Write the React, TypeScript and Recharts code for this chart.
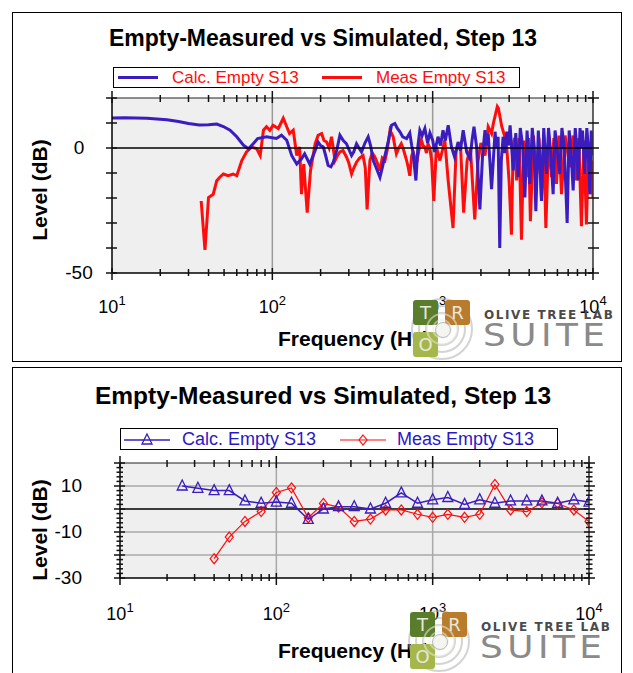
import React from "react";
import { LineChart, Line, XAxis, YAxis, ReferenceLine, CartesianGrid } from "recharts";

const FONT = '"Liberation Sans", Arial, Helvetica, sans-serif';
const TITLE = "Empty-Measured vs Simulated, Step 13";
const CALC_NAME = "Calc. Empty S13";
const MEAS_NAME = "Meas Empty S13";
const X_TITLE = "Frequency (Hz)";
const Y_TITLE = "Level (dB)";

const BLUE = "#3a1cbf";
const RED = "#ff0d0d";

// x axis ticks (log, decades + minors)
const freqTicks = [
  10, 20, 30, 40, 50, 60, 70, 80, 90, 100, 200, 300, 400, 500, 600, 700, 800, 900,
  1000, 2000, 3000, 4000, 5000, 6000, 7000, 8000, 9000, 10000,
];
const decadeTicks = [10, 100, 1000, 10000];

// top chart: narrow band response [Hz, dB]
const calcTop: [number, number][] = [
  [10, 12], [12, 12.1], [14, 12], [16.5, 11.9], [19, 11.6], [22, 11.3], [26, 10.6], [30, 9.8],
  [35, 9.2], [40, 9.3], [45, 9.6], [49.5, 8.6], [54.5, 7.1], [60, 4.5], [66, 1.1], [71, -0.3],
  [76, 1.7], [81, 3.8], [92, 4.5], [106, 3.8], [114, 5.1], [123, 3.1], [132, -3], [142, -6.4],
  [152, -4.3], [159, -2.3], [171, -6.4], [185, -1], [193, 2.4], [200, 1], [208, 0.4], [215, -3],
  [223, -7], [232, -7.5], [240, -5.7], [252, -1], [264, 5.1], [277, 3], [290, 1.7], [300, -0.5],
  [312, -3], [322, -1.5], [335, 1.7], [347, 0], [360, -1.6], [378, 2], [396, 4.5], [410, 1],
  [426, -5], [445, -8], [469, -11.7], [485, -8], [504, -3], [530, 3], [554, 9.1], [581, 9.8],
  [600, 8], [625, 6.5], [650, 4.5], [688, 3.8], [720, 6], [740, 1], [756, -2.3], [786, -13],
  [810, 1], [832, 7.1], [860, 5], [894, 7.8], [930, 2], [961, 6], [1000, 3.1], [1030, -1.6],
  [1080, 4.5], [1120, 1], [1160, 7.1], [1200, 3], [1250, 9.1], [1310, 0.4], [1370, -3.6], [1440, 2.4],
  [1490, -1], [1550, 7.1], [1630, -1.6], [1710, -4.3], [1760, 3], [1810, 8.5], [1880, 0.4], [1970, -24.6],
  [2050, -2.3], [2120, 7.1], [2170, 1], [2220, 5.8], [2330, -16.5], [2450, 6.5], [2500, 0], [2560, 4.5],
  [2620, -40], [2680, -5], [2750, 4.5], [2820, -2], [2900, 6.5], [2970, 1], [3040, 9.1], [3180, -9],
  [3300, 6], [3415, -11.7], [3520, 8], [3640, 1], [3760, -19.8], [3880, 7], [3960, -3], [4040, -14.4],
  [4180, 8], [4290, 0], [4400, -25.3], [4560, 7], [4660, -4], [4770, -21.2], [4930, 8], [5030, -2],
  [5130, -10.4], [5280, 8], [5450, -2], [5640, -18.5], [5800, 7], [5980, -1], [6210, -10.4], [6400, 8],
  [6620, 0], [6900, -30], [7100, 7], [7300, -2], [7520, -17], [7750, 8], [7900, 1], [8080, -13],
  [8300, 8], [8450, 0], [8600, 7], [8890, -10.4], [9150, 8], [9350, 0], [9550, -18.5], [9750, 7],
  [9900, -3], [10000, 5],
];

const measTop: [number, number][] = [
  [36, -21.2], [38, -40.8], [40, -19.8], [42.8, -18.5], [45, -13.1], [47, -11.7], [49.5, -10.4], [53, -11.1],
  [57, -10.4], [60, -11.1], [64.5, -5], [69, -1.6], [74.5, 0.4], [80, -0.3], [84, -3], [88, 7.1],
  [92, 8.5], [96.5, 7.1], [101, 9.1], [109, 7.8], [117, 11.9], [123, 8.5], [128, 5.8], [135, 7.1],
  [142, -3], [148, 0.4], [152, -18.5], [157, -6.4], [165, -25.9], [173, -9.1], [185, 1.7], [193, 5.1],
  [203, 5.8], [210, 3], [218, 2.4], [226, 0], [234, 4.5], [246, -5], [255, -3], [264, -1.6],
  [276, -1], [290, -3.6], [300, -6], [312, -10.4], [322, -8], [335, -5.7], [350, -4], [368, -3],
  [380, -8], [390, -24.6], [406, -5], [420, -2], [436, -3.6], [452, -6], [469, -9.1], [485, -4],
  [504, -5], [520, -1], [542, 7.1], [567, 4.5], [580, 1], [594, -2.3], [615, 0], [637, 1.7],
  [660, -1], [688, -5], [705, -8], [720, -11.1], [740, -3], [756, -1.6], [775, -4], [792, -6.4],
  [820, -1], [850, 3.1], [870, 1], [894, 0.4], [915, -2], [935, 1.7], [960, 0], [985, -5],
  [1016, -21.2], [1055, 0.4], [1110, -5], [1190, 3.1], [1250, -13.1], [1340, -32], [1400, -1], [1490, 1.7],
  [1560, -25.9], [1640, -5], [1720, -0.3], [1830, -28.6], [1920, -5], [2000, 2], [2120, -3], [2220, 8.5],
  [2330, 5.8], [2390, 9.8], [2530, 16.6], [2570, 15.9], [2700, 8.5], [2820, 4.5], [2900, 0], [3000, -13.8],
  [3100, -34.7], [3180, 1.7], [3250, 4], [3340, -13], [3460, 4], [3580, -36.7], [3700, 3], [3850, -11.7],
  [3960, 4], [4070, -29.3], [4250, 5], [4440, -13], [4600, 4], [4770, -19.8], [4920, 5], [5080, -32],
  [5300, 5], [5510, -11.7], [5700, 4], [5920, -14.4], [6130, 5], [6360, -18.5], [6700, 5], [7170, -7.7],
  [7500, 5], [7880, -13], [8150, 4], [8470, -31.3], [8780, 3], [9100, -30.6], [9400, 2], [9680, -18.5],
  [9850, -5], [10000, -20],
];

// bottom chart: 1/3 octave bands
const calcBandFreqs = [25, 31.5, 40, 50, 63, 80, 100, 125, 160, 200, 250, 315, 400, 500, 630, 800, 1000, 1250, 1600, 2000, 2500, 3150, 4000, 5000, 6300, 8000, 10000];
const calcBandLevels = [10, 9, 8, 8, 3.5, 2.5, 3, 2.5, -4.5, 0, 1, 1, 0, 2.5, 7, 2.5, 4, 5, 2, 4, 2.5, 3.5, 3.5, 3.5, 2.5, 4, 3];
const measBandFreqs = [40, 50, 63, 80, 100, 125, 160, 200, 250, 315, 400, 500, 630, 800, 1000, 1250, 1600, 2000, 2500, 3150, 4000, 5000, 6300, 8000, 10000];
const measBandLevels = [-21.6, -12.2, -5.4, -1.1, 7.2, 9.2, -3.8, 2.4, 0.8, -5.4, -4.4, -0.4, -0.4, -2.3, -3.6, -2.3, -3.6, -2.3, 10.7, -0.4, -1.1, 2.7, 2.4, -0.4, -5.4];

const topLevelTicks = [-50, -40, -30, -20, -10, 0, 10, 20];
const topLevelLabels = [0, -50];
const botLevelTicks = [
  -30, -28, -26, -24, -22, -20, -18, -16, -14, -12, -10, -8, -6, -4, -2, 0,
  2, 4, 6, 8, 10, 12, 14, 16, 18, 20,
];
const botLevelMajors = [-30, -20, -10, 0, 10, 20];
const botLevelLabels = [10, -10, -30];

const toPts = (rows: [number, number][]) => rows.map(([f, v]) => ({ f, v }));
const zipPts = (fs: number[], vs: number[]) => fs.map((f, i) => ({ f, v: vs[i] }));

const xTick = (labelDy: number, withLabel: boolean, dir: number) => (props: any) => {
  const { x, y, payload } = props;
  const v = payload.value;
  const major = decadeTicks.includes(v);
  return (
    <g>
      <line x1={x} x2={x} y1={y - dir * (major ? 5 : 4)} y2={y + dir * (major ? 7 : 3)} stroke="#111" strokeWidth={1.5} />
      {withLabel && major && (
        <text x={x} y={y + labelDy} textAnchor="middle" fontFamily={FONT} fontSize={18} fill="#000">
          10
          <tspan dy={-8} fontSize={13}>{Math.round(Math.log10(v))}</tspan>
        </text>
      )}
    </g>
  );
};

const yTick = (majors: number[], labels: number[], labelDx: number, dir: number, anchor: string) => (props: any) => {
  const { x, y, payload } = props;
  const v = payload.value;
  const major = majors.includes(v);
  const len = major ? 6 : 3.5;
  return (
    <g>
      <line x1={x - dir * len} x2={x + dir * (major ? 5 : 3)} y1={y} y2={y} stroke="#111" strokeWidth={1.5} />
      {labels.includes(v) && (
        <text x={x - labelDx} y={y} dy={6} textAnchor={anchor} fontFamily={FONT} fontSize={19} fill="#000">
          {v}
        </text>
      )}
    </g>
  );
};

const TriDot = (props: any) => {
  const { cx, cy } = props;
  if (cx == null || cy == null) return null;
  return (
    <path d={`M${cx},${cy - 6} L${cx + 5},${cy + 4} L${cx - 5},${cy + 4} Z`} fill="none" stroke={BLUE} strokeWidth={1.3} />
  );
};

const DiaDot = (props: any) => {
  const { cx, cy } = props;
  if (cx == null || cy == null) return null;
  return (
    <path d={`M${cx},${cy - 5} L${cx + 4},${cy} L${cx},${cy + 5} L${cx - 4},${cy} Z`} fill="none" stroke={RED} strokeWidth={1.2} />
  );
};

function Logo({ x, y }: { x: number; y: number }) {
  const sq = (dx: number, dy: number, bg: string, ch: string) => (
    <div style={{ position: "absolute", left: x + dx, top: y + dy, width: 25, height: 25, background: bg, borderRadius: 3, color: "#e6e9dc", fontFamily: "DejaVu Sans", fontSize: 18, lineHeight: "25px", textAlign: "center" }}>{ch}</div>
  );
  return (
    <>
      {[31, 24, 17].map((r) => (
        <div key={r} style={{ position: "absolute", left: x + 29 - r, top: y + 29 - r, width: 2 * r, height: 2 * r, borderRadius: "50%", border: "2px solid rgba(175,175,175,0.55)", boxSizing: "border-box" }} />
      ))}
      {sq(0, 0, "#5a7d2c", "T")}
      {sq(32, 0, "#b97b2c", "R")}
      {sq(0, 32, "#a5b64b", "O")}
      {[10, 16].map((r) => (
        <div key={r} style={{ position: "absolute", left: x + 29 - r, top: y + 29 - r, width: 2 * r, height: 2 * r, borderRadius: "50%", border: "2px solid rgba(235,235,225,0.55)", boxSizing: "border-box" }} />
      ))}
      <div style={{ position: "absolute", left: x + 22, top: y + 22, width: 14, height: 14, borderRadius: "50%", background: "#f4f4f0", border: "1px solid #bbb" }} />
      <div style={{ position: "absolute", left: x + 71, top: y + 8, fontFamily: "DejaVu Sans", fontWeight: 600, fontSize: 12, letterSpacing: 1.6, color: "#4a4a4a", whiteSpace: "nowrap" }}>OLIVE TREE LAB</div>
      <div style={{ position: "absolute", left: x + 70, top: y + 16, fontFamily: "DejaVu Sans", fontSize: 32, letterSpacing: 4, color: "#8a8a8a", whiteSpace: "nowrap", transform: "scaleX(1.12)", transformOrigin: "left top" }}>SUITE</div>
    </>
  );
}

function Title({ top, size }: { top: number; size: number }) {
  return (
    <div style={{ position: "absolute", left: 323, top, transform: "translateX(-50%)", whiteSpace: "nowrap", fontFamily: FONT, fontWeight: 700, fontSize: size, color: "#000" }}>
      {TITLE}
    </div>
  );
}

function AxisTitles({ yCenter, xTop }: { yCenter: number; xTop: number }) {
  return (
    <>
      <div style={{ position: "absolute", left: 40, top: yCenter, transform: "translate(-50%,-50%) rotate(-90deg)", whiteSpace: "nowrap", fontFamily: FONT, fontWeight: 700, fontSize: 21 }}>
        {Y_TITLE}
      </div>
      <div style={{ position: "absolute", left: 278, top: xTop, whiteSpace: "nowrap", fontFamily: FONT, fontWeight: 700, fontSize: 21 }}>
        {X_TITLE}
      </div>
    </>
  );
}

function TopChart() {
  const axisLine = { stroke: "#000", strokeWidth: 1.5 };
  return (
    <div style={{ position: "absolute", left: 0, top: 0 }}>
      <LineChart width={633} height={360} margin={{ top: 0, right: 0, bottom: 0, left: 0 }}>
        <CartesianGrid xAxisId="b" yAxisId="l" horizontal={false} vertical={false} fill="#efefef" />
        <XAxis xAxisId="b" dataKey="f" type="number" scale="log" domain={[10, 10000]} allowDataOverflow ticks={freqTicks} interval={0} height={87} tickSize={0} tickMargin={0} tickLine={false} axisLine={axisLine} tick={xTick(40, true, 1)} />
        <XAxis xAxisId="t" orientation="top" dataKey="f" type="number" scale="log" domain={[10, 10000]} allowDataOverflow ticks={freqTicks} interval={0} height={98} tickSize={0} tickMargin={0} tickLine={false} axisLine={{ stroke: "#222", strokeWidth: 1.2 }} tick={xTick(0, false, -1)} />
        <YAxis yAxisId="l" type="number" domain={[-50, 20]} allowDataOverflow ticks={topLevelTicks} interval={0} width={112} tickSize={0} tickMargin={0} tickLine={false} axisLine={axisLine} tick={yTick(topLevelTicks, topLevelLabels, 33, 1, "middle")} />
        <YAxis yAxisId="r" orientation="right" type="number" domain={[-50, 20]} allowDataOverflow ticks={topLevelTicks} interval={0} width={40} tickSize={0} tickMargin={0} tickLine={false} axisLine={{ stroke: "#333", strokeWidth: 1.5 }} tick={yTick(topLevelTicks, [], 0, -1, "middle")} />
        <ReferenceLine xAxisId="b" yAxisId="l" x={100} stroke="#9a9a9a" strokeWidth={1.5} />
        <ReferenceLine xAxisId="b" yAxisId="l" x={1000} stroke="#9a9a9a" strokeWidth={1.5} />
        <Line xAxisId="b" yAxisId="l" data={toPts(measTop)} dataKey="v" name={MEAS_NAME} stroke={RED} strokeWidth={3} dot={false} isAnimationActive={false} />
        <Line xAxisId="b" yAxisId="l" data={toPts(calcTop)} dataKey="v" name={CALC_NAME} stroke={BLUE} strokeWidth={3} dot={false} isAnimationActive={false} />
        <ReferenceLine xAxisId="b" yAxisId="l" y={0} stroke="#000" strokeWidth={1.5} />
      </LineChart>
    </div>
  );
}

function BottomChart() {
  const axisLine = { stroke: "#000", strokeWidth: 1.5 };
  return (
    <div style={{ position: "absolute", left: 0, top: 360 }}>
      <LineChart width={633} height={313} margin={{ top: 0, right: 0, bottom: 0, left: 0 }}>
        <CartesianGrid xAxisId="b" yAxisId="l" fill="#efefef" stroke="#a8a8a8" strokeWidth={1.5} horizontalValues={[10, -10, -20]} verticalValues={[100, 1000]} />
        <XAxis xAxisId="b" dataKey="f" type="number" scale="log" domain={[10, 10000]} allowDataOverflow ticks={freqTicks} interval={0} height={95} tickSize={0} tickMargin={0} tickLine={false} axisLine={axisLine} tick={xTick(42, true, 1)} />
        <XAxis xAxisId="t" orientation="top" dataKey="f" type="number" scale="log" domain={[10, 10000]} allowDataOverflow ticks={freqTicks} interval={0} height={103} tickSize={0} tickMargin={0} tickLine={false} axisLine={{ stroke: "#222", strokeWidth: 1.2 }} tick={xTick(0, false, -1)} />
        <YAxis yAxisId="l" type="number" domain={[-30, 20]} allowDataOverflow ticks={botLevelTicks} interval={0} width={120} tickSize={0} tickMargin={0} tickLine={false} axisLine={axisLine} tick={yTick(botLevelMajors, botLevelLabels, 38, 1, "end")} />
        <YAxis yAxisId="r" orientation="right" type="number" domain={[-30, 20]} allowDataOverflow ticks={botLevelTicks} interval={0} width={44} tickSize={0} tickMargin={0} tickLine={false} axisLine={{ stroke: "#333", strokeWidth: 1.5 }} tick={yTick(botLevelMajors, [], 0, -1, "end")} />
        <ReferenceLine xAxisId="b" yAxisId="l" y={0} stroke="#000" strokeWidth={1.5} />
        <Line xAxisId="b" yAxisId="l" data={zipPts(measBandFreqs, measBandLevels)} dataKey="v" name={MEAS_NAME} stroke={RED} strokeWidth={1.2} dot={(p: any) => <DiaDot key={p.index} {...p} />} isAnimationActive={false} />
        <Line xAxisId="b" yAxisId="l" data={zipPts(calcBandFreqs, calcBandLevels)} dataKey="v" name={CALC_NAME} stroke={BLUE} strokeWidth={1.5} dot={(p: any) => <TriDot key={p.index} {...p} />} isAnimationActive={false} />
      </LineChart>
    </div>
  );
}

function TopLegend() {
  const txt = { position: "absolute" as const, top: 0, fontFamily: FONT, fontSize: 17, color: RED, lineHeight: "20px", whiteSpace: "nowrap" as const };
  return (
    <div style={{ position: "absolute", left: 113, top: 67, width: 405, height: 19, border: "1.5px solid #000", background: "#fff" }}>
      <div style={{ position: "absolute", left: 4, top: 8, width: 40, height: 3, background: BLUE }} />
      <div style={{ ...txt, left: 58 }}>{CALC_NAME}</div>
      <div style={{ position: "absolute", left: 208, top: 8, width: 40, height: 3, background: RED }} />
      <div style={{ ...txt, left: 262 }}>{MEAS_NAME}</div>
    </div>
  );
}

function BottomLegend() {
  const txt = { position: "absolute" as const, top: 0, fontFamily: FONT, fontSize: 18, color: "#2a18c8", lineHeight: "21px", whiteSpace: "nowrap" as const };
  return (
    <div style={{ position: "absolute", left: 120, top: 428, width: 436, height: 20, border: "1.5px solid #000", background: "#fff" }}>
      <svg style={{ position: "absolute", left: 3, top: 0 }} width={48} height={20}>
        <line x1={0} x2={46} y1={11} y2={11} stroke={BLUE} strokeWidth={1.5} />
        <path d="M23,5 L28,15 L18,15 Z" fill="none" stroke={BLUE} strokeWidth={1.3} />
      </svg>
      <div style={{ ...txt, left: 61 }}>{CALC_NAME}</div>
      <svg style={{ position: "absolute", left: 219, top: 0 }} width={48} height={20}>
        <line x1={0} x2={46} y1={11} y2={11} stroke={RED} strokeWidth={1.2} />
        <path d="M23,6 L27,11 L23,16 L19,11 Z" fill="none" stroke={RED} strokeWidth={1.2} />
      </svg>
      <div style={{ ...txt, left: 276 }}>{MEAS_NAME}</div>
    </div>
  );
}

export default function App() {
  return (
    <div style={{ position: "absolute", left: 0, top: 0, width: 633, height: 673, background: "#fff", overflow: "hidden" }}>
      <div style={{ position: "absolute", left: 12, top: 12, width: 608, height: 348, border: "1.5px solid #000" }} />
      <div style={{ position: "absolute", left: 12, top: 367, width: 608, height: 330, border: "1.5px solid #000" }} />
      <TopChart />
      <BottomChart />
      <Title top={25} size={23} />
      <Title top={382} size={24.5} />
      <TopLegend />
      <BottomLegend />
      <AxisTitles yCenter={190} xTop={327} />
      <AxisTitles yCenter={530} xTop={639} />
      <Logo x={413} y={300} />
      <Logo x={410} y={612} />
    </div>
  );
}
